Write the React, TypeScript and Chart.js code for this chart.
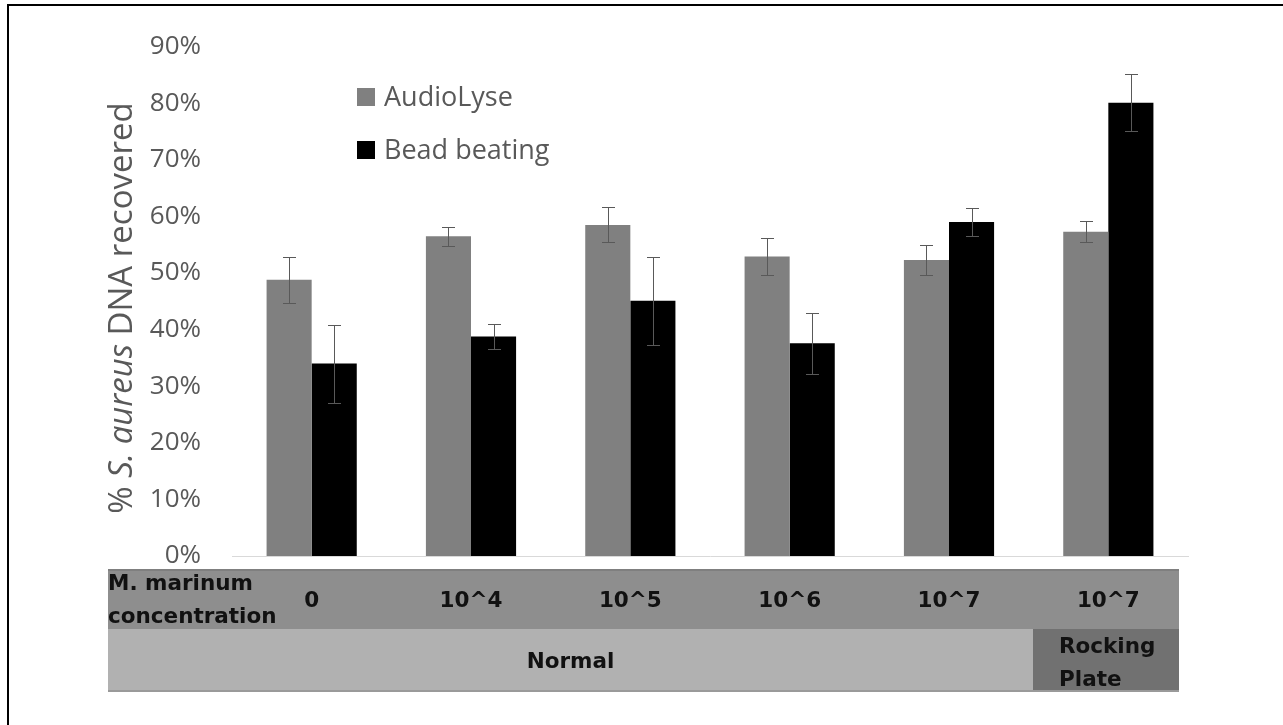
import React, { useEffect, useRef } from "react";
import { Chart, registerables } from "chart.js";

Chart.register(...registerables);

// ---- data ----
const categories = ["0", "10^4", "10^5", "10^6", "10^7", "10^7"];
const seriesNames = ["AudioLyse", "Bead beating"];
const audioLyse = [48.8, 56.5, 58.5, 52.9, 52.3, 57.3];
const audioLyseErr = [4.1, 1.7, 3.1, 3.2, 2.6, 1.8];
const beadBeating = [34.0, 38.8, 45.1, 37.6, 59.0, 80.1];
const beadBeatingErr = [6.9, 2.2, 7.8, 5.4, 2.4, 5.0];
const rowHeader = ["M. marinum", "concentration"];
const groupLabels = [["Normal"], ["Rocking", "Plate"]];
const groupSpans = [5, 1];
const yTitleParts = [
  { text: "% ", italic: false },
  { text: "S. aureus", italic: true },
  { text: " DNA recovered", italic: false },
];

const W = 1283;
const H = 725;
const FONT = "'Open Sans', 'Noto Sans', sans-serif";
const BOLD_FONT = "'DejaVu Sans', Verdana, sans-serif";
const TEXT_GRAY = "#595959";

const errors = [audioLyseErr, beadBeatingErr];

const overlayPlugin = {
  id: "overlay",
  beforeDraw(chart: any) {
    const ctx = chart.ctx;
    ctx.save();
    ctx.fillStyle = "#ffffff";
    ctx.fillRect(0, 0, W, H);
    ctx.restore();
  },
  afterDatasetsDraw(chart: any) {
    const ctx = chart.ctx;
    const y = chart.scales.y;
    ctx.save();
    ctx.strokeStyle = "#595959";
    ctx.lineWidth = 1;
    chart.data.datasets.forEach((ds: any, di: number) => {
      const meta = chart.getDatasetMeta(di);
      meta.data.forEach((bar: any, i: number) => {
        const v = ds.data[i];
        const e = errors[di][i];
        const x = Math.round(bar.x) + 0.5;
        const yt = Math.round(y.getPixelForValue(v + e)) + 0.5;
        const yb = Math.round(y.getPixelForValue(v - e)) + 0.5;
        ctx.beginPath();
        ctx.moveTo(x, yt);
        ctx.lineTo(x, yb);
        ctx.moveTo(x - 6.5, yt);
        ctx.lineTo(x + 6.5, yt);
        ctx.moveTo(x - 6.5, yb);
        ctx.lineTo(x + 6.5, yb);
        ctx.stroke();
      });
    });
    ctx.restore();
  },
  afterDraw(chart: any) {
    const ctx = chart.ctx;
    const xs = chart.scales.x;
    ctx.save();

    // outer frame (top and left)
    ctx.fillStyle = "#000000";
    ctx.fillRect(7, 4, W - 7, 2);
    ctx.fillRect(7, 4, 2, H - 4);

    // y-axis title with italic species name
    ctx.save();
    ctx.translate(123, 308);
    ctx.rotate(-Math.PI / 2);
    ctx.fillStyle = TEXT_GRAY;
    ctx.textBaseline = "middle";
    ctx.textAlign = "left";
    const fontFor = (it: boolean) => `${it ? "italic " : ""}33px ${FONT}`;
    let total = 0;
    yTitleParts.forEach((p) => {
      ctx.font = fontFor(p.italic);
      total += ctx.measureText(p.text).width;
    });
    let cx = -total / 2;
    yTitleParts.forEach((p) => {
      ctx.font = fontFor(p.italic);
      ctx.fillText(p.text, cx, 0);
      cx += ctx.measureText(p.text).width;
    });
    ctx.restore();

    // legend
    const legendColors = chart.data.datasets.map((d: any) => d.backgroundColor);
    const legendY = [97, 150];
    ctx.font = `27px ${FONT}`;
    ctx.textBaseline = "middle";
    ctx.textAlign = "left";
    seriesNames.forEach((name, i) => {
      ctx.fillStyle = legendColors[i];
      ctx.fillRect(357, legendY[i] - 9, 18, 18);
      ctx.fillStyle = TEXT_GRAY;
      ctx.fillText(name, 384, legendY[i] + 1);
    });

    // data table below the axis
    const tLeft = 108;
    const tRight = 1179;
    const r1Top = 569;
    const r1Bot = 629;
    const r2Bot = 692;
    ctx.fillStyle = "#8e8e8e";
    ctx.fillRect(tLeft, r1Top, tRight - tLeft, r1Bot - r1Top);
    ctx.fillStyle = "#7f7f7f";
    ctx.fillRect(tLeft, r1Top, tRight - tLeft, 2);

    const split = 1033;
    ctx.fillStyle = "#b1b1b1";
    ctx.fillRect(tLeft, r1Bot, split - tLeft, r2Bot - r1Bot);
    ctx.fillStyle = "#717171";
    ctx.fillRect(split, r1Bot, tRight - split, r2Bot - r1Bot);
    ctx.fillStyle = "#9a9a9a";
    ctx.fillRect(tLeft, r2Bot - 2, tRight - tLeft, 2);

    ctx.fillStyle = "#111111";
    ctx.font = `bold 21.5px ${BOLD_FONT}`;
    ctx.textBaseline = "middle";
    ctx.textAlign = "left";
    ctx.fillText(rowHeader[0], 108, 584);
    ctx.fillText(rowHeader[1], 108, 617);

    ctx.textAlign = "center";
    categories.forEach((c, i) => {
      ctx.fillText(c, xs.getPixelForValue(i), 601);
    });

    // group row
    groupLabels.forEach((lines, gi) => {
      if (lines.length === 1) {
        ctx.textAlign = "center";
        ctx.fillText(lines[0], (tLeft + split) / 2, 662);
      } else {
        ctx.textAlign = "left";
        ctx.fillText(lines[0], split + 26, 647);
        ctx.fillText(lines[1], split + 26, 680);
      }
    });
    void groupSpans;

    ctx.restore();
  },
};

export default function App() {
  const ref = useRef<HTMLCanvasElement | null>(null);
  useEffect(() => {
    if (!ref.current) return;
    const chart = new Chart(ref.current, {
      type: "bar",
      data: {
        labels: categories,
        datasets: [
          {
            label: seriesNames[0],
            data: audioLyse,
            backgroundColor: "#808080",
            borderWidth: 0,
            barPercentage: 1,
            categoryPercentage: 0.566,
          },
          {
            label: seriesNames[1],
            data: beadBeating,
            backgroundColor: "#000000",
            borderWidth: 0,
            barPercentage: 1,
            categoryPercentage: 0.566,
          },
        ],
      },
      options: {
        responsive: false,
        animation: false,
        devicePixelRatio: 1,
        layout: { padding: { left: 0, right: 95, top: 42, bottom: 169 } },
        plugins: {
          legend: { display: false },
          tooltip: { enabled: false },
          title: { display: false },
        },
        scales: {
          x: {
            grid: { display: false },
            ticks: { display: false },
            border: { display: true, color: "#d9d9d9", width: 1 },
            afterFit: (s: any) => {
              s.height = 0;
            },
          },
          y: {
            min: 0,
            max: 90,
            grid: { display: false, drawTicks: false },
            border: { display: false },
            ticks: {
              stepSize: 10,
              padding: 31,
              color: TEXT_GRAY,
              font: { family: FONT, size: 26 },
              callback: (v: any) => `${v}%`,
            },
            afterFit: (s: any) => {
              s.width = 232;
            },
          },
        },
      },
      plugins: [overlayPlugin],
    });
    return () => chart.destroy();
  }, []);
  return (
    <div style={{ position: "absolute", left: 0, top: 0, width: W, height: H, background: "#fff" }}>
      <canvas ref={ref} width={W} height={H} style={{ width: W, height: H, display: "block" }} />
    </div>
  );
}
